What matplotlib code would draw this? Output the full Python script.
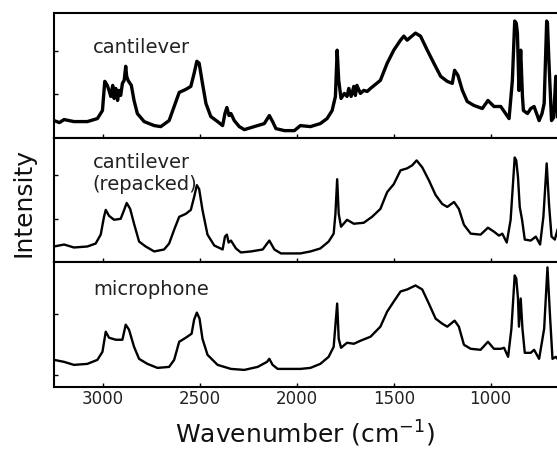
import matplotlib.pyplot as plt

# cantilever
wn1 = [3253, 3225, 3201, 3150, 3081, 3029, 3003, 2991, 2978, 2969, 2960, 2950, 2943, 2934, 2925, 2917,
       2909, 2900, 2891, 2883, 2878, 2871, 2854, 2840, 2823, 2788, 2736, 2702, 2659, 2633, 2607, 2573,
       2547, 2530, 2516, 2504, 2487, 2469, 2444, 2409, 2383, 2371, 2361, 2350, 2340, 2323, 2297, 2271,
       2220, 2168, 2142, 2125, 2108, 2064, 2013, 1982, 1930, 1879, 1844, 1818, 1801, 1792, 1784, 1772,
       1755, 1741, 1732, 1720, 1706, 1698, 1690, 1672, 1655, 1637, 1620, 1569, 1534, 1500, 1465, 1448,
       1431, 1388, 1362, 1327, 1293, 1258, 1224, 1198, 1186, 1169, 1146, 1121, 1086, 1043, 1014, 983,
       948, 923, 905, 888, 876, 868, 862, 854, 845, 836, 831, 810, 793, 776, 750, 735,
       724, 711, 707, 699, 686, 675, 664, 655]
int1 = [17, 15, 18, 16, 16, 19, 27, 56, 52, 47, 41, 52, 39, 49, 37, 47,
        42, 54, 57, 71, 61, 57, 52, 37, 24, 16, 12, 11, 17, 31, 45, 48,
        51, 64, 76, 74, 54, 34, 21, 16, 12, 24, 30, 22, 24, 17, 11, 8,
        11, 14, 22, 16, 9, 7, 7, 12, 11, 14, 19, 27, 41, 87, 57, 39,
        44, 41, 49, 41, 51, 42, 52, 44, 47, 46, 49, 57, 74, 87, 97, 101,
        97, 104, 101, 87, 74, 61, 56, 54, 67, 62, 47, 36, 32, 29, 37, 31,
        31, 24, 19, 57, 116, 114, 104, 47, 87, 41, 27, 24, 29, 31, 17, 24,
        34, 116, 114, 74, 17, 20, 61, 21]

# cantilever (repacked)
wn2 = [3253, 3201, 3150, 3081, 3038, 3012, 2995, 2986, 2969, 2943, 2909, 2891, 2878, 2860, 2840, 2814,
       2780, 2736, 2685, 2659, 2633, 2607, 2573, 2547, 2530, 2516, 2504, 2487, 2461, 2426, 2383, 2371,
       2361, 2352, 2340, 2314, 2289, 2237, 2176, 2142, 2116, 2082, 2013, 1982, 1930, 1879, 1836, 1810,
       1801, 1792, 1784, 1772, 1741, 1706, 1655, 1612, 1569, 1534, 1500, 1465, 1431, 1405, 1382, 1353,
       1319, 1284, 1250, 1224, 1189, 1164, 1138, 1103, 1052, 1014, 983, 957, 940, 917, 897, 876,
       868, 859, 850, 838, 824, 793, 767, 745, 728, 711, 699, 686, 669, 655]
int2 = [16, 18, 15, 16, 19, 28, 46, 53, 47, 43, 44, 53, 60, 54, 39, 21,
        16, 11, 13, 19, 33, 46, 49, 53, 66, 78, 74, 53, 28, 17, 13, 26,
        28, 20, 22, 14, 10, 11, 13, 22, 13, 9, 9, 9, 11, 14, 21, 29,
        49, 84, 49, 36, 43, 39, 40, 46, 54, 71, 79, 93, 95, 98, 103, 96,
        83, 68, 59, 56, 61, 54, 38, 29, 28, 35, 31, 27, 29, 20, 43, 106,
        103, 86, 56, 43, 23, 22, 26, 18, 46, 100, 59, 26, 23, 33]

# microphone
wn3 = [3253, 3201, 3150, 3081, 3029, 3003, 2986, 2969, 2934, 2900, 2883, 2866, 2840, 2814, 2771, 2719,
       2659, 2633, 2607, 2573, 2543, 2530, 2516, 2502, 2487, 2461, 2409, 2340, 2271, 2202, 2154, 2142,
       2125, 2099, 2013, 1982, 1930, 1879, 1836, 1810, 1792, 1784, 1772, 1741, 1706, 1672, 1620, 1569,
       1534, 1500, 1465, 1431, 1388, 1353, 1319, 1284, 1250, 1224, 1186, 1164, 1138, 1103, 1052, 1014,
       983, 948, 931, 910, 893, 876, 868, 859, 854, 845, 836, 824, 793, 776, 750, 724,
       707, 693, 681, 664, 655]
int3 = [27, 25, 22, 23, 27, 35, 55, 49, 47, 47, 62, 57, 40, 28, 23, 19,
        20, 27, 45, 49, 53, 67, 74, 68, 48, 32, 22, 18, 17, 20, 25, 28,
        22, 18, 18, 18, 19, 23, 30, 40, 83, 48, 39, 44, 43, 46, 50, 60,
        75, 85, 95, 97, 101, 97, 83, 68, 63, 60, 66, 60, 42, 38, 37, 45,
        38, 38, 39, 30, 58, 111, 108, 88, 60, 88, 58, 34, 34, 37, 28, 58,
        119, 68, 28, 30, 28]

spektri = [(wn1, int1, 'cantilever', 2.4), (wn2, int2, 'cantilever\n(repacked)', 1.7), (wn3, int3, 'microphone', 1.7)]
ylimiti = [(0, 124), (0, 126), (0, 124)]
yticks = [[43, 86], [44, 88], [12, 73]]
tekst_y = [0.80, 0.88, 0.855]
xticks = [3000, 2500, 2000, 1500, 1000]

fig = plt.figure(figsize=(5.57, 4.51), dpi=100)
lijevo, desno = 54 / 557, 558.5 / 557
vrh, dno = 1 - 13 / 451, 1 - 387 / 451
visina = (vrh - dno) / 3

for i, (x, y, ime, lw) in enumerate(spektri):
    ax = fig.add_axes([lijevo, vrh - (i + 1) * visina, desno - lijevo, visina])
    ax.plot(x, y, 'k-', lw=lw)
    ax.set_xlim(3253, 650)
    ax.set_ylim(*ylimiti[i])
    ax.set_yticks(yticks[i])
    ax.set_yticklabels([])
    ax.set_xticks(xticks)
    ax.tick_params(direction='in', length=3, width=1, labelsize=12, pad=2, labelcolor='#222222')
    if i < 2:
        ax.set_xticklabels([])
    for s in ax.spines.values():
        s.set_linewidth(1.5)
    ax.text(0.077, tekst_y[i], ime, transform=ax.transAxes, fontsize=14, va='top', ha='left', color='#222222')

fig.text(0.548, 1 - 443 / 451, 'Wavenumber (cm$^{-1}$)', fontsize=18, ha='center', va='baseline', color='#111111')
fig.text(0.043, 0.552, 'Intensity', fontsize=18, rotation=90, ha='center', va='center', color='#111111')

plt.savefig('out.png', dpi=100)
